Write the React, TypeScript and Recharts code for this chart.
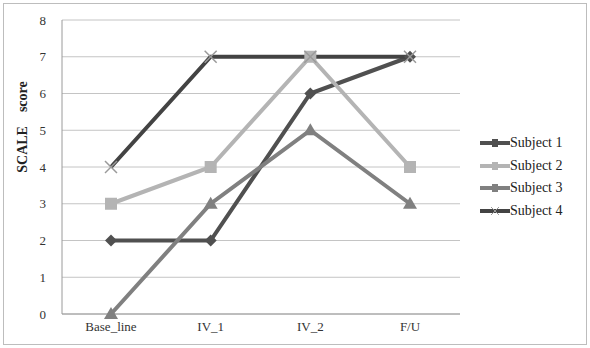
import { LineChart, Line, XAxis, YAxis, CartesianGrid, Label } from 'recharts';

const categories = ['Base_line', 'IV_1', 'IV_2', 'F/U'];
const subject1 = [2, 2, 6, 7];
const subject2 = [3, 4, 7, 4];
const subject3 = [0, 3, 5, 3];
const subject4 = [4, 7, 7, 7];
const yTicks = [0, 1, 2, 3, 4, 5, 6, 7, 8];

const SERIES = [
  { key: 's1', name: 'Subject 1', color: '#505050', marker: 'diamond' },
  { key: 's2', name: 'Subject 2', color: '#b4b4b4', marker: 'square' },
  { key: 's3', name: 'Subject 3', color: '#808080', marker: 'triangle' },
  { key: 's4', name: 'Subject 4', color: '#434343', marker: 'cross' },
];

const chartData = categories.map((name, i) => ({
  name,
  s1: subject1[i],
  s2: subject2[i],
  s3: subject3[i],
  s4: subject4[i],
}));

const FONT = '"Liberation Serif", "DejaVu Serif", serif';

function Marker({ cx, cy, type, color }: { cx: number; cy: number; type: string; color: string }) {
  if (cx == null || cy == null) return null;
  if (type === 'diamond') {
    return <path d={`M${cx},${cy - 6}L${cx + 6},${cy}L${cx},${cy + 6}L${cx - 6},${cy}Z`} fill={color} />;
  }
  if (type === 'square') {
    return <rect x={cx - 6} y={cy - 6} width={12} height={12} fill={color} />;
  }
  if (type === 'triangle') {
    return <path d={`M${cx},${cy - 7}L${cx + 7},${cy + 5}L${cx - 7},${cy + 5}Z`} fill={color} />;
  }
  return (
    <g stroke="#9a9a9a" strokeWidth={1.5}>
      <line x1={cx - 6} y1={cy - 6} x2={cx + 6} y2={cy + 6} />
      <line x1={cx - 6} y1={cy + 6} x2={cx + 6} y2={cy - 6} />
    </g>
  );
}

function LegendBox() {
  return (
    <div
      style={{
        position: 'absolute',
        left: 480,
        top: 132,
        fontFamily: FONT,
        fontSize: 14,
        color: '#222',
      }}
    >
      {SERIES.map((s) => (
        <div key={s.key} style={{ display: 'flex', alignItems: 'center', height: 22.5 }}>
          <svg width={30} height={12}>
            <line x1={0} y1={6} x2={30} y2={6} stroke={s.color} strokeWidth={4} />
            {s.marker === 'cross' ? (
              <g stroke="#9a9a9a" strokeWidth={1}>
                <line x1={11} y1={2} x2={19} y2={10} />
                <line x1={11} y1={10} x2={19} y2={2} />
              </g>
            ) : (
              <rect x={12} y={2} width={6} height={8} fill={s.color} />
            )}
          </svg>
          <span>{s.name}</span>
        </div>
      ))}
    </div>
  );
}

export default function App() {
  return (
    <div style={{ position: 'absolute', left: 0, top: 0, width: 590, height: 348, background: '#fff' }}>
      <div
        style={{
          position: 'absolute',
          left: 3,
          top: 3,
          width: 582,
          height: 340,
          border: '1px solid #bdbdbd',
        }}
      />
      <div style={{ position: 'absolute', left: 0, top: 0 }}>
        <LineChart
          width={590}
          height={348}
          data={chartData}
          margin={{ top: 20, right: 130, bottom: 4, left: 22 }}
        >
          <CartesianGrid vertical={false} stroke="#c4c4c4" strokeWidth={1} />
          <XAxis
            dataKey="name"
            tick={{ fontSize: 13, fill: '#333', fontFamily: FONT }}
            tickLine={false}
            axisLine={{ stroke: '#9a9a9a' }}
            height={30}
            padding={{ left: 49, right: 50 }}
            interval={0}
          />
          <YAxis
            domain={[0, 8]}
            ticks={yTicks}
            interval={0}
            width={40}
            tick={{ fontSize: 13, fill: '#333', fontFamily: FONT }}
            tickLine={false}
            axisLine={{ stroke: '#9a9a9a' }}
            tickMargin={10}
          >
            <Label
              content={() => (
                <text
                  x={22}
                  y={127}
                  transform="rotate(-90 22 127)"
                  textAnchor="middle"
                  dominantBaseline="central"
                  fontFamily={FONT}
                  fontWeight="bold"
                  fontSize={14}
                  fill="#222"
                  style={{ whiteSpace: 'pre' }}
                >
                  {'SCALE    score'}
                </text>
              )}
            />
          </YAxis>
          {SERIES.map((s) => (
            <Line
              key={s.key}
              type="linear"
              dataKey={s.key}
              name={s.name}
              stroke={s.color}
              strokeWidth={4}
              isAnimationActive={false}
              dot={(p: any) => (
                <Marker key={`${s.key}-${p.index}`} cx={p.cx} cy={p.cy} type={s.marker} color={s.color} />
              )}
              activeDot={false}
            />
          ))}
        </LineChart>
      </div>
      <LegendBox />
    </div>
  );
}
